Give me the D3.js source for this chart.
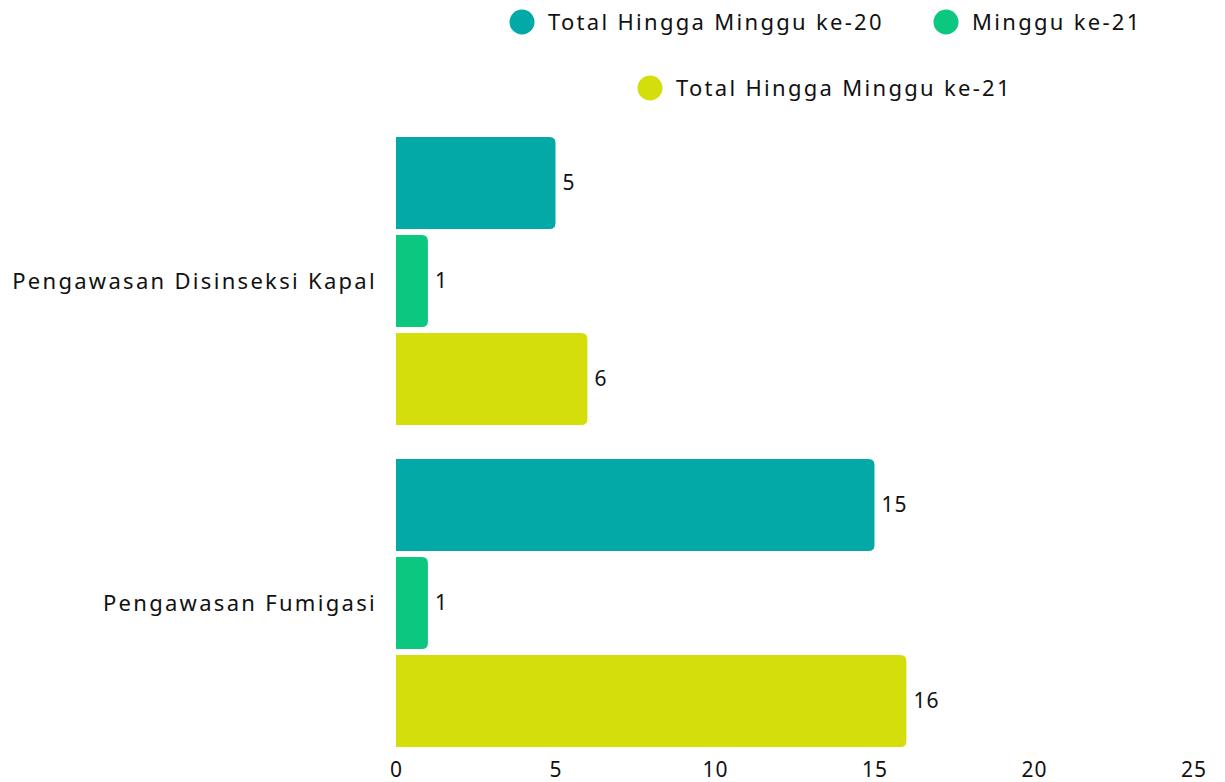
<!DOCTYPE html>
<html>
<head>
<meta charset="utf-8">
<script src="https://cdn.jsdelivr.net/npm/d3@7"></script>
<style>
  body { margin: 0; background: #fff; }
  text { font-family: "Noto Sans", sans-serif; fill: #111; letter-spacing: 1px; }
  text.cat, g.leg text { letter-spacing: 2.3px; }
</style>
</head>
<body>
<div id="chart"></div>
<script>
// data
var categories = ['Pengawasan Disinseksi Kapal', 'Pengawasan Fumigasi'];
var seriesNames = ['Total Hingga Minggu ke-20', 'Minggu ke-21', 'Total Hingga Minggu ke-21'];
var seriesColors = ['#02A9A6', '#0BC77F', '#D4DE0B'];
var totalWeek20 = [5, 15];
var week21 = [1, 1];
var totalWeek21 = [6, 16];
var xTicks = [0, 5, 10, 15, 20, 25];

var values = [totalWeek20, week21, totalWeek21];

var W = 1225, H = 782;
var svg = d3.select('#chart').append('svg').attr('width', W).attr('height', H);

var x = d3.scaleLinear().domain([0, 25]).range([396, 1193.5]);
var y0 = d3.scaleBand().domain(categories).range([120, 764])
  .paddingInner(34 / 322).paddingOuter(17 / 322);
var y1 = d3.scaleBand().domain(d3.range(seriesNames.length)).range([0, y0.bandwidth()])
  .paddingInner(0.061).paddingOuter(0);

// bar path with rounded right corners
var barPath = function(x0, yt, w, h, r) {
  r = Math.min(r, w, h / 2);
  return 'M' + x0 + ',' + yt +
    'H' + (x0 + w - r) +
    'Q' + (x0 + w) + ',' + yt + ' ' + (x0 + w) + ',' + (yt + r) +
    'V' + (yt + h - r) +
    'Q' + (x0 + w) + ',' + (yt + h) + ' ' + (x0 + w - r) + ',' + (yt + h) +
    'H' + x0 + 'Z';
};

var rows = [];
categories.forEach(function(c, ci) {
  seriesNames.forEach(function(s, si) {
    rows.push({cat: c, si: si, v: values[si][ci]});
  });
});

var g = svg.append('g');
g.selectAll('path.bar').data(rows).enter().append('path')
  .attr('class', 'bar')
  .attr('d', function(d) {
    return barPath(x(0), y0(d.cat) + y1(d.si), x(d.v) - x(0), y1.bandwidth(), 6);
  })
  .style('fill', function(d) { return seriesColors[d.si]; });

g.selectAll('text.val').data(rows).enter().append('text')
  .attr('class', 'val')
  .attr('x', function(d) { return x(d.v) + 7; })
  .attr('y', function(d) { return y0(d.cat) + y1(d.si) + y1.bandwidth() / 2; })
  .attr('dy', '0.35em')
  .style('font-size', '21px')
  .text(function(d) { return d.v; });

// category labels
svg.selectAll('text.cat').data(categories).enter().append('text')
  .attr('class', 'cat')
  .attr('x', 377)
  .attr('y', function(d) { return y0(d) + y0.bandwidth() / 2; })
  .attr('dy', '0.35em')
  .attr('text-anchor', 'end')
  .style('font-size', '22px')
  .text(function(d) { return d; });

// x axis labels
var xAxis = svg.append('g').attr('transform', 'translate(0,' + 777 + ')')
  .call(d3.axisBottom(x).tickValues(xTicks).tickSize(0).tickPadding(0));
xAxis.select('.domain').remove();
xAxis.selectAll('text').style('font-size', '21px').attr('y', 0).attr('dy', 0)
  .style('font-family', '"Noto Sans", sans-serif').style('fill', '#111');

// legend
var legendItems = [
  {name: seriesNames[0], color: seriesColors[0], cx: 522, cy: 22},
  {name: seriesNames[1], color: seriesColors[1], cx: 946, cy: 22},
  {name: seriesNames[2], color: seriesColors[2], cx: 650, cy: 88}
];
var lg = svg.selectAll('g.leg').data(legendItems).enter().append('g').attr('class', 'leg');
lg.append('circle')
  .attr('cx', function(d) { return d.cx; })
  .attr('cy', function(d) { return d.cy; })
  .attr('r', 12.5)
  .style('fill', function(d) { return d.color; });
lg.append('text')
  .attr('x', function(d) { return d.cx + 26; })
  .attr('y', function(d) { return d.cy; })
  .attr('dy', '0.35em')
  .style('font-size', '22px')
  .text(function(d) { return d.name; });
</script>
</body>
</html>
